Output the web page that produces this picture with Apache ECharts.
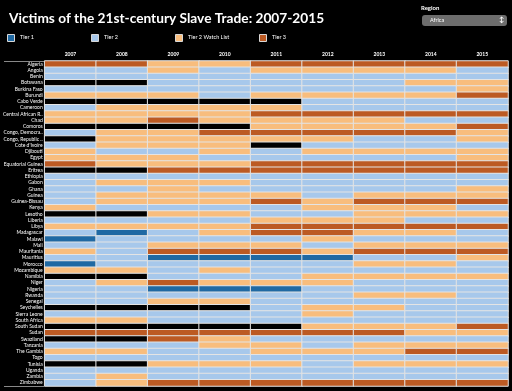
<!DOCTYPE html>
<html><head><meta charset="utf-8">
<script src="https://cdn.jsdelivr.net/npm/echarts@6/dist/echarts.min.js"></script>
<style>html,body{margin:0;padding:0;background:#000;}#c{width:512px;height:391px;}</style>
</head><body><div id="c"></div>
<script>
const years = ['2007','2008','2009','2010','2011','2012','2013','2014','2015'];
const countries = ['Algeria','Angola','Benin','Botswana','Burkina Faso','Burundi','Cabo Verde','Cameroon','Central African R..','Chad',
 'Comoros','Congo, Democra..','Congo, Republic ..',"Cote d'Ivoire",'Djibouti','Egypt','Equatorial Guinea','Eritrea','Ethiopia','Gabon',
 'Ghana','Guinea','Guinea-Bissau','Kenya','Lesotho','Liberia','Libya','Madagascar','Malawi','Mali',
 'Mauritania','Mauritius','Morocco','Mozambique','Namibia','Niger','Nigeria','Rwanda','Senegal','Seychelles',
 'Sierra Leone','South Africa','South Sudan','Sudan','Swaziland','Tanzania','The Gambia','Togo','Tunisia','Uganda',
 'Zambia','Zimbabwe'];
// 0 = no ranking, 1 = Tier 1, 2 = Tier 2, 3 = Tier 2 Watch List, 4 = Tier 3
const t2007 = [4,2,2,0,2,3,0,2,3,3, 0,2,0,2,3,3,4,0,2,2, 2,2,2,3,0,2,3,2,1,2, 3,2,1,3,0,2,2,2,2,0, 2,3,0,4,0,2,3,2,0,2, 2,2];
const t2008 = [4,2,2,0,2,3,0,3,3,3, 0,3,3,3,2,3,3,0,2,3, 2,3,3,2,0,2,3,1,2,2, 2,2,2,3,0,3,2,2,2,0, 2,3,0,4,0,2,3,2,0,2, 3,3];
const t2009 = [3,3,2,2,2,3,0,3,3,4, 0,3,3,3,2,3,3,4,2,3, 3,3,3,2,3,2,3,2,2,3, 4,1,2,2,2,4,1,2,3,0, 2,2,0,4,4,2,2,2,3,2, 2,4];
const t2010 = [3,2,2,2,2,2,0,3,3,3, 0,4,3,3,3,2,3,4,2,3, 2,3,3,2,3,2,3,3,2,3, 4,1,2,3,2,3,1,2,3,0, 2,2,0,4,3,3,2,2,3,2, 2,4];
const t2011 = [4,3,2,2,2,3,0,3,4,3, 3,4,3,0,2,2,4,4,2,2, 2,3,4,2,2,3,4,4,2,3, 4,1,2,2,2,3,1,2,2,2, 2,2,0,4,2,3,3,2,3,2, 2,4];
const t2012 = [4,3,2,2,2,3,2,2,4,3, 3,4,3,2,3,2,4,4,2,2, 2,2,3,3,2,3,4,4,3,2, 3,1,2,2,3,3,2,2,2,3, 3,2,3,4,2,2,3,2,2,2, 2,4];
const t2013 = [4,3,2,2,2,3,2,2,4,3, 3,4,2,2,3,2,4,4,2,2, 2,3,4,3,3,3,4,3,2,3, 4,2,3,2,3,2,2,3,2,3, 2,2,3,4,2,3,3,2,3,2, 2,4];
const t2014 = [4,3,2,3,2,3,2,2,4,2, 3,4,2,2,3,2,4,4,2,2, 2,3,4,3,3,2,4,3,2,3, 4,2,3,2,3,2,2,3,2,2, 2,2,3,3,2,3,4,2,3,2, 2,4];
const t2015 = [4,2,2,3,3,4,2,2,4,2, 4,3,3,2,3,3,4,4,2,2, 3,3,4,2,3,2,4,2,2,3, 4,3,2,2,3,2,2,2,2,2, 2,2,4,3,2,3,4,2,3,2, 2,4];
const yearValues = [t2007,t2008,t2009,t2010,t2011,t2012,t2013,t2014,t2015];
const tierNames = ['Tier 1','Tier 2','Tier 2 Watch List','Tier 3'];
const tierColors = ['#000000','#1f69a3','#a7c8eb','#f8bd7d','#bc5a23'];

const data = [];
yearValues.forEach((col, xi) => col.forEach((v, yi) => data.push([xi, yi, v])));

const legendX = [7, 91, 175, 259];
const graphics = [];
tierNames.forEach((n, i) => {
  graphics.push({type:'rect', left: legendX[i], top: 34, shape:{width:7,height:7},
    style:{fill: tierColors[i+1], stroke:'#d8d8d8', lineWidth:1}});
  graphics.push({type:'text', left: legendX[i]+13, top: 34.5,
    style:{text:n, fill:'#fff', font:'5.5px Lato'}});
});
graphics.push({type:'text', left:421, top:5, style:{text:'Region', fill:'#fff', font:'bold 6px Lato'}});
graphics.push({type:'rect', left:422, top:15, shape:{width:85,height:11,r:3}, style:{fill:'#6d6d6d'}});
graphics.push({type:'text', left:430, top:17.5, style:{text:'Africa', fill:'#fff', font:'5.5px Lato'}});
graphics.push({type:'text', left:499, top:16.5, style:{text:'\u2195', fill:'#fff', font:'bold 7px Lato'}});
graphics.push({type:'line', shape:{x1:4,y1:61.5,x2:44,y2:61.5}, style:{stroke:'#888', lineWidth:1}});
graphics.push({type:'line', shape:{x1:4,y1:386.5,x2:44,y2:386.5}, style:{stroke:'#888', lineWidth:1}});

const chart = echarts.init(document.getElementById('c'), null, {renderer:'canvas'});
chart.setOption({
  backgroundColor:'#000',
  animation:false,
  title:{text:'Victims of the 21st-century Slave Trade: 2007-2015', left:4, top:7,
    textStyle:{color:'#fff', fontFamily:'Lato', fontWeight:'bold', fontSize:13.7}},
  grid:{left:44, right:4, top:61, bottom:5},
  xAxis:{type:'category', data:years, position:'top', axisLine:{show:false}, axisTick:{show:false},
    axisLabel:{color:'#fff', fontSize:5, fontWeight:'bold', fontFamily:'Lato', margin:4}, splitLine:{show:false}},
  yAxis:{type:'category', data:countries, inverse:true, axisLine:{show:false}, axisTick:{show:false},
    axisLabel:{color:'#fff', fontSize:5, fontFamily:'Lato', interval:0, margin:2}},
  visualMap:{show:false, type:'piecewise', dimension:2,
    pieces:[0,1,2,3,4].map(v => ({value:v, color:tierColors[v]}))},
  series:[{type:'heatmap', data:data,
    itemStyle:{borderColor:'#e4e4e4', borderWidth:1}}],
  graphic:graphics
});
</script></body></html>
